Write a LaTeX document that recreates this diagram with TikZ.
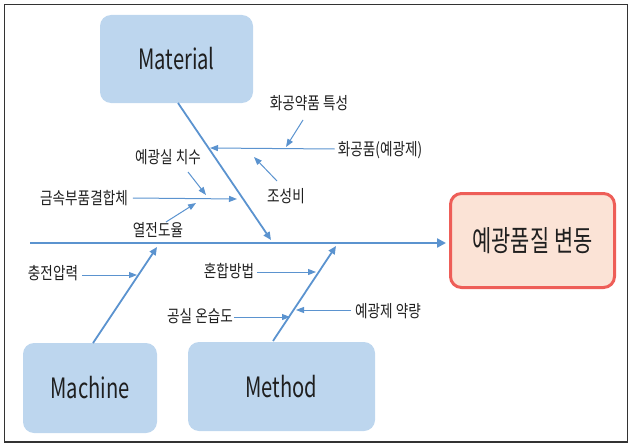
\documentclass[tikz,border=0pt]{standalone}
\usepackage{fontspec}
\usetikzlibrary{arrows.meta}
\newfontfamily\krfont[FakeStretch=0.8]{Noto Sans CJK KR}
\newfontfamily\krbig[FakeStretch=0.72]{Noto Sans CJK KR}
\definecolor{boneblue}{HTML}{5B93CF}
\definecolor{boxblue}{HTML}{BDD6EE}
\definecolor{redline}{HTML}{EE5E58}
\definecolor{peach}{HTML}{FBE3D6}
\definecolor{frame}{HTML}{333333}
\tikzset{
  catbox/.style={fill=boxblue, draw=none, rounded corners=11pt, inner sep=0pt,
    font=\krbig\fontsize{28}{32}\selectfont, text=black!88},
  effectbox/.style={fill=peach, draw=redline, line width=3pt, rounded corners=11pt,
    inner sep=0pt, font=\krbig\fontsize{29}{32}\selectfont, text=black!88},
  lbl/.style={font=\krfont\fontsize{17}{20}\selectfont, text=black!88, inner sep=1pt},
  bone/.style={draw=boneblue, line width=1.8pt, -{Triangle[length=8pt,width=7pt]}},
  twig/.style={draw=boneblue, line width=1pt, -{Triangle[length=8pt,width=6pt]}},
  spine/.style={draw=boneblue, line width=2.8pt, -{Triangle[length=9pt,width=9pt]}},
}
\begin{document}
\begin{tikzpicture}[x=1pt,y=-1pt]
\useasboundingbox (0,0) rectangle (629,444);
\draw[frame, line width=1.5pt] (4.5,4.5) rectangle (627.5,442);

% boxes
\node[catbox, minimum width=153pt, minimum height=88pt] (mat) at (176.5,59) {Material};
\node[catbox, minimum width=134pt, minimum height=90pt] (mac) at (90,388) {Machine};
\node[catbox, minimum width=187pt, minimum height=89pt] (met) at (281.5,386.5) {Method};
\node[effectbox, minimum width=164pt, minimum height=94pt] (eff) at (532.5,240.5) {예광품질 변동};

% spine and bones
\coordinate (sp0) at (30,243);
\draw[spine, shorten >=3pt] (sp0) -- (eff.west |- sp0);
\coordinate (matS) at (178,103);
\coordinate (matT) at (271,240);
\draw[bone] (matS) -- (matT);
\coordinate (macS) at (93,343);
\coordinate (macT) at (157,247);
\draw[bone] (macS) -- (macT);
\coordinate (metS) at (273,341);
\coordinate (metT) at (336,246);
\draw[bone] (metS) -- (metT);

% material causes
\node[lbl] (m1) at (309,103) {화공약품 특성};
\node[lbl] (m2) at (380,150) {화공품(예광제)};
\node[lbl] (m3) at (168,157) {예광실 치수};
\node[lbl] (m4) at (286,196) {조성비};
\node[lbl] (m5) at (84,198) {금속부품결합체};
\node[lbl] (m6) at (158,230) {열전도율};
\coordinate (t2) at (210,148);
\draw[twig] (m2.west) ++(-2,-1) -- (t2);
\coordinate (t1a) at (303,120);
\coordinate (t1) at (286,147);
\draw[twig] (t1a) -- (t1);
\coordinate (t3a) at (188,172);
\coordinate (t3) at (206,195);
\draw[twig] (t3a) -- (t3);
\coordinate (t4a) at (277,181);
\coordinate (t4) at (254,157);
\draw[twig] (t4a) -- (t4);
\coordinate (t5) at (237,199);
\draw[twig] (m5.east) ++(4,0) -- (t5);
\coordinate (t6a) at (166,222);
\coordinate (t6) at (196,203);
\draw[twig] (t6a) -- (t6);

% machine causes
\node[lbl] (c1) at (53,273) {충전압력};
\coordinate (c1t) at (137,275);
\draw[twig] (c1.east) ++(3,2) -- (c1t);

% method causes
\node[lbl] (d1) at (229,271) {혼합방법};
\node[lbl] (d2) at (200,316) {공실 온습도};
\node[lbl] (d3) at (388,311) {예광제 약량};
\coordinate (d1t) at (316,272);
\draw[twig] (d1.east) ++(2,1) -- (d1t);
\coordinate (d2t) at (290,317);
\draw[twig] (d2.east) ++(0,1) -- (d2t);
\coordinate (d3t) at (296,310);
\draw[twig] (d3.west) ++(-3,-1) -- (d3t);
\end{tikzpicture}
\end{document}
